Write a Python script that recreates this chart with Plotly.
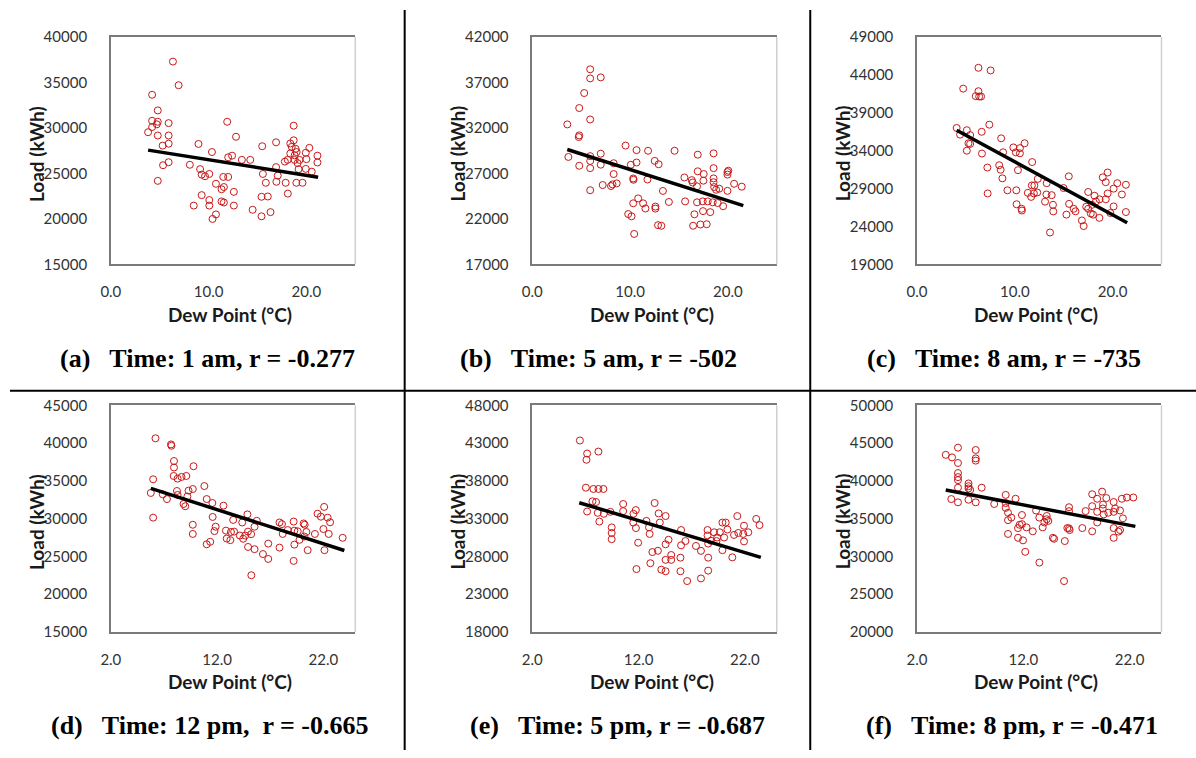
import plotly.graph_objects as go

# ---------------- data ----------------
a_points = [(6.35,37300),(6.93,34700),(4.22,33650),(4.8,31930),(4.22,30790),(4.8,30680),(4.7,30400),(3.81,29530),(4.22,30100),(5.91,30530),(4.8,29170),(5.91,29170),(5.91,28270),(5.3,28060),(5.34,25900),(5.91,26230),(4.8,24180),(11.9,30680),(12.8,29030),(8.96,28240),(8.08,25950),(10.34,27350),(12.0,26770),(12.4,26950),(13.4,26490),(14.26,26490),(15.48,27990),(16.9,28420),(9.13,25470),(9.29,24870),(9.63,24690),(10.07,24940),(10.75,23860),(11.5,24610),(12.0,24610),(11.32,23260),(11.56,23500),(12.58,22970),(9.29,22610),(10.07,22070),(10.07,21460),(8.48,21460),(11.32,21920),(11.56,21800),(12.58,21460),(10.75,20490),(10.4,19990),(14.5,21000),(15.41,20280),(16.33,20740),(15.41,22430),(16.05,22460),(18.1,22780),(15.55,24940),(15.85,23970),(16.9,25690),(17.07,24760),(16.93,24080),(17.88,23970),(18.97,23970),(19.6,23970),(18.7,30250),(18.7,28640),(18.5,27920),(18.9,27700),(19.0,27350),(18.35,27190),(18.08,26490),(17.8,26300),(18.8,26480),(19.3,26480),(19.1,26130),(19.94,27270),(20.3,27810),(20.0,26570),(21.13,26950),(21.13,26200),(19.2,25470),(19.94,25500),(20.55,25190),(18.35,28290),(18.8,26990)]
b_points = [(5.92,38450),(5.92,37450),(7.0,37560),(5.31,35840),(4.8,34190),(5.92,32930),(3.58,32390),(4.8,31180),(4.75,31000),(3.69,28810),(4.8,27840),(5.92,28900),(5.92,28370),(5.92,27580),(7.0,29170),(7.0,27960),(5.92,25150),(7.2,25720),(8.05,25610),(8.2,25790),(8.63,25900),(8.32,26930),(8.32,28120),(9.54,30060),(10.66,29560),(11.84,29490),(14.55,29490),(10.66,28200),(10.08,27950),(12.52,28380),(12.92,28010),(10.32,26440),(10.35,26300),(11.78,26330),(13.36,25070),(10.32,23710),(10.83,24250),(11.33,23710),(11.57,23140),(12.59,23350),(12.59,23130),(9.81,22530),(10.15,22280),(10.42,20340),(12.86,21310),(13.2,21240),(13.97,23860),(15.63,23920),(15.56,26550),(16.31,26260),(16.4,26000),(16.92,27230),(17.53,26930),(17.5,26200),(16.85,25580),(16.92,29060),(18.54,29200),(18.54,27580),(18.54,26450),(18.54,26030),(18.6,25500),(19.12,25320),(18.8,25200),(19.96,27150),(20.05,27300),(19.96,26870),(20.64,25860),(21.42,25540),(19.96,25080),(16.85,23820),(17.43,23920),(17.94,23920),(18.45,23820),(18.96,23740),(19.52,23390),(17.46,22850),(18.2,22740),(16.58,22500),(16.45,21240),(17.2,21380),(17.84,21410)]
c_points = [(6.28,44940),(7.52,44590),(4.72,42190),(6.28,41850),(6.0,41200),(6.35,41150),(6.55,41150),(7.39,37430),(4.05,37000),(5.09,36700),(5.43,36060),(4.4,36120),(6.61,36490),(5.26,34980),(5.43,34900),(5.09,34000),(6.64,33620),(8.6,35630),(8.8,33790),(9.85,34430),(10.52,34340),(11.0,34980),(10.1,33780),(10.52,33650),(11.77,32500),(7.19,31770),(8.4,32080),(8.55,31480),(8.73,30350),(10.32,31430),(7.22,28350),(9.24,28770),(10.15,28770),(10.18,26930),(10.69,26330),(10.72,26100),(11.33,28430),(11.67,27900),(11.74,29410),(12.0,29410),(11.95,28350),(12.29,28480),(12.35,30280),(13.26,29710),(13.23,28220),(13.77,28130),(13.09,27270),(13.9,26850),(13.93,25980),(13.6,23200),(14.98,29070),(15.52,30610),(15.28,25560),(15.55,26980),(16.02,26330),(16.2,26000),(16.86,24790),(17.04,24050),(17.5,28550),(17.3,26600),(17.5,26330),(17.77,25710),(17.9,26850),(18.15,28050),(18.29,27290),(18.66,27580),(18.65,25130),(18.0,25560),(19.3,27590),(18.99,30480),(19.49,31120),(19.3,29840),(19.49,28350),(20.1,28990),(20.1,26640),(19.77,25770),(20.48,29710),(20.95,28220),(21.36,29500),(21.36,25900)]
d_points = [(6.2,40640),(7.66,39830),(7.7,39650),(7.94,37630),(7.94,36770),(7.91,35650),(8.28,35300),(8.65,35520),(9.1,35650),(9.78,36940),(5.98,35210),(5.76,33400),(5.98,30130),(6.88,33230),(7.28,32590),(8.22,33660),(8.28,33140),(8.84,31940),(9.0,31640),(9.31,33710),(9.71,33920),(9.2,32930),(10.8,34310),(11.02,32590),(11.55,32070),(12.6,31720),(11.58,30220),(9.71,29190),(9.71,27970),(11.02,26600),(11.35,26930),(11.86,28930),(11.75,28350),(12.83,28410),(12.9,27360),(13.24,27150),(13.3,28230),(13.51,29830),(13.6,28280),(14.14,27760),(14.45,27330),(14.64,27760),(14.85,30560),(14.36,29490),(14.9,28280),(15.2,27940),(14.91,26250),(15.52,25950),(15.73,29710),(15.52,28930),(15.22,22500),(16.31,25310),(16.81,24660),(16.81,26690),(17.87,26160),(17.87,29490),(18.1,29280),(18.17,27970),(18.65,28490),(19.2,29610),(19.27,28410),(19.27,26560),(19.2,24400),(19.58,28320),(20.14,29360),(20.24,29190),(20.52,25820),(20.4,28230),(21.2,27970),(21.45,30650),(21.76,30260),(22.07,31550),(22.4,30130),(22.63,29520),(22.0,28620),(22.5,27970),(22.1,25820),(23.81,27460),(20.2,27630),(19.75,27190)]
e_points = [(6.48,43350),(7.16,41620),(7.1,40800),(8.22,41880),(7.04,37100),(7.75,36930),(8.22,36930),(8.69,36930),(7.66,35290),(8.0,35200),(7.16,33940),(8.16,33770),(8.73,33640),(8.31,32610),(9.47,31840),(9.47,31100),(9.47,30280),(9.35,33900),(10.55,34940),(10.55,33990),(11.52,33640),(11.74,34130),(11.5,32480),(11.75,31750),(11.96,29810),(11.8,26320),(12.74,32700),(12.98,31840),(13.04,30970),(13.51,35070),(13.89,33690),(14.0,32480),(14.54,33340),(13.3,28570),(13.82,28740),(13.11,27090),(14.14,26240),(14.54,26030),(14.54,27540),(14.82,30200),(14.54,29600),(15.07,28180),(15.07,27540),(16.0,31490),(16.0,29460),(15.94,27830),(15.94,26030),(16.41,30030),(16.57,24730),(17.4,29380),(17.87,28730),(18.55,27830),(18.55,26110),(17.87,25080),(18.49,31490),(18.49,30770),(18.55,29690),(19.11,31190),(19.64,31190),(19.33,30030),(19.89,32480),(20.2,32480),(19.89,28820),(20.05,30500),(20.36,31560),(20.98,30840),(20.82,27870),(21.29,33340),(21.38,31100),(21.92,32060),(21.85,30970),(21.92,29980),(22.32,31190),(23.07,32960),(23.38,32140),(19.4,30500),(18.8,30070)]
f_points = [(4.7,43450),(5.29,43110),(5.85,44400),(5.85,42370),(5.85,41040),(5.85,40500),(5.85,40100),(7.52,44090),(7.52,42980),(7.52,42680),(6.84,39660),(6.84,39300),(6.84,39000),(7.0,38800),(8.08,39100),(5.85,39100),(5.22,37590),(5.85,37160),(6.84,37500),(7.52,37160),(9.26,36940),(10.34,38140),(10.34,37060),(10.34,36420),(11.27,37630),(10.56,35780),(10.87,35140),(10.56,34800),(11.87,35480),(11.5,33750),(11.65,34180),(11.87,34270),(12.3,33840),(12.89,33320),(10.56,32970),(11.5,32460),(11.97,32120),(12.18,30600),(13.51,29180),(13.2,36070),(13.5,35140),(13.82,33840),(14.2,35350),(14.2,34920),(13.98,34490),(14.35,34700),(14.78,32460),(14.9,32330),(15.83,26730),(15.9,32030),(16.3,36510),(16.3,35990),(16.3,33710),(16.36,33490),(17.55,33750),(17.86,36000),(18.48,38230),(18.48,33320),(18.48,36650),(18.95,37630),(19.41,38580),(19.81,37720),(19.5,36860),(19.47,36340),(18.95,35900),(19.56,35560),(18.95,34490),(20.0,35780),(20.5,37200),(20.64,36340),(21.1,36080),(20.5,35900),(21.27,37630),(21.74,37800),(22.35,37800),(21.37,35040),(20.5,33750),(21.1,33490),(20.95,33280),(20.5,32460),(16.14,33750)]

# trend line end points (dew, load)
a_trend = [(3.81, 27560), (21.2, 24580)]
b_trend = [(3.58, 29630), (21.58, 23460)]
c_trend = [(4.05, 36700), (21.49, 24490)]
d_trend = [(5.76, 34010), (23.97, 25780)]
e_trend = [(6.42, 35110), (23.5, 27870)]
f_trend = [(4.7, 38790), (22.54, 33970)]

# axis ticks
x_ticks_top = [0, 10, 20]
x_ticks_bottom = [2, 12, 22]
a_yticks = [15000, 20000, 25000, 30000, 35000, 40000]
b_yticks = [17000, 22000, 27000, 32000, 37000, 42000]
c_yticks = [19000, 24000, 29000, 34000, 39000, 44000, 49000]
d_yticks = [15000, 20000, 25000, 30000, 35000, 40000, 45000]
e_yticks = [18000, 23000, 28000, 33000, 38000, 43000, 48000]
f_yticks = [20000, 25000, 30000, 35000, 40000, 45000, 50000]

NB = "\u00a0"
captions = [
    f"(a){NB*2} Time: 1 am, r = -0.277",
    f"(b){NB*2} Time: 5 am, r = -502",
    f"(c){NB*2} Time: 8 am, r = -735",
    f"(d){NB*2} Time: 12 pm,{NB} r = -0.665",
    f"(e){NB*2} Time: 5 pm, r = -0.687",
    f"(f){NB*2} Time: 8 pm, r = -0.471",
]
x_title = "Dew Point (\u00b0C)"
y_title = "Load (kWh)"

# ---------------- layout geometry (pixels) ----------------
W, H = 1196, 758
def fx(p): return p / W
def fy(p): return 1 - p / H

col_left = [101.7, 526.7, 914.7]
box_w = 246.5
rows = [(27.7, 260.5), (405.0, 637.0)]
caption_center = [199, 593, 1002, 201, 613, 1010]

panels = [
    (a_points, a_trend, x_ticks_top, [0, 25], a_yticks),
    (b_points, b_trend, x_ticks_top, [0, 25], b_yticks),
    (c_points, c_trend, x_ticks_top, [0, 25], c_yticks),
    (d_points, d_trend, x_ticks_bottom, [2, 25], d_yticks),
    (e_points, e_trend, x_ticks_bottom, [2, 25], e_yticks),
    (f_points, f_trend, x_ticks_bottom, [2, 25], f_yticks),
]

fig = go.Figure()
layout = {}
shapes = []
annotations = []
sans = "Lato, Open Sans, sans-serif"
tick_font = dict(family=sans, size=15, color="#333333")
title_font = dict(family=sans, size=19, color="#1a1a1a")
axis_col = "#7a7a7a"

for i, (pts, trend, xt, xr, yt) in enumerate(panels):
    n = i + 1
    r, c = divmod(i, 3)
    left = col_left[c]
    right = left + box_w
    top, bottom = rows[r]
    xname = "x" if n == 1 else f"x{n}"
    yname = "y" if n == 1 else f"y{n}"
    xkey = "xaxis" if n == 1 else f"xaxis{n}"
    ykey = "yaxis" if n == 1 else f"yaxis{n}"

    fig.add_trace(go.Scatter(
        x=[p[0] for p in pts], y=[p[1] for p in pts], mode="markers",
        xaxis=xname, yaxis=yname, showlegend=False,
        marker=dict(symbol="circle-open", size=7, color="#c81818", line=dict(width=1)),
    ))
    fig.add_trace(go.Scatter(
        x=[p[0] for p in trend], y=[p[1] for p in trend], mode="lines",
        xaxis=xname, yaxis=yname, showlegend=False,
        line=dict(color="black", width=3.5),
    ))

    layout[xkey] = dict(
        domain=[fx(left), fx(right)], range=xr, anchor=yname,
        tickvals=xt, tickformat=".1f", showgrid=False, zeroline=False,
        showline=True, linecolor=axis_col, linewidth=1.5, mirror=True,
        ticks="", tickfont=tick_font, ticklabelstandoff=13, fixedrange=True,
    )
    layout[ykey] = dict(
        domain=[fy(bottom), fy(top)], range=[yt[0], yt[-1]], anchor=xname,
        tickvals=yt, tickformat="d", showgrid=False, zeroline=False,
        showline=True, linecolor=axis_col, linewidth=1.5,
        ticks="", tickfont=tick_font, ticklabelstandoff=19, fixedrange=True,
    )
    # lighter right edge of the plot box
    shapes.append(dict(type="line", xref=f"{xname} domain", yref=f"{yname} domain",
                       x0=1, x1=1, y0=0, y1=1, line=dict(color="#cfcfcf", width=1.5)))

    # axis titles
    annotations.append(dict(
        text=f"<b>{x_title}</b>", xref="paper", yref="paper",
        x=fx((left + right) / 2 - 3), y=fy(bottom + 51), xanchor="center", yanchor="middle",
        showarrow=False, font=title_font,
    ))
    annotations.append(dict(
        text=f"<b>{y_title}</b>", xref="paper", yref="paper",
        x=fx(left - 75), y=fy((top + bottom) / 2 + 3), xanchor="center", yanchor="middle",
        textangle=-90, showarrow=False, font=title_font,
    ))
    # caption
    cap_y = 357 if r == 0 else 733
    annotations.append(dict(
        text=f"<b>{captions[i]}</b>", xref="paper", yref="paper",
        x=fx(caption_center[i]), y=fy(cap_y), xanchor="center", yanchor="middle",
        showarrow=False, font=dict(family="Liberation Serif, Times New Roman, serif", size=26, color="black"),
    ))

# divider lines
for xv in (398, 807):
    shapes.append(dict(type="line", xref="paper", yref="paper", x0=fx(xv), x1=fx(xv),
                       y0=0, y1=1, line=dict(color="black", width=2)))
shapes.append(dict(type="line", xref="paper", yref="paper", x0=0, x1=1,
                   y0=fy(390), y1=fy(390), line=dict(color="black", width=2)))

fig.update_layout(
    width=W, height=H, margin=dict(l=0, r=0, t=0, b=0),
    paper_bgcolor="white", plot_bgcolor="white",
    shapes=shapes, annotations=annotations, showlegend=False,
    **layout,
)

fig.write_html("out.html")
